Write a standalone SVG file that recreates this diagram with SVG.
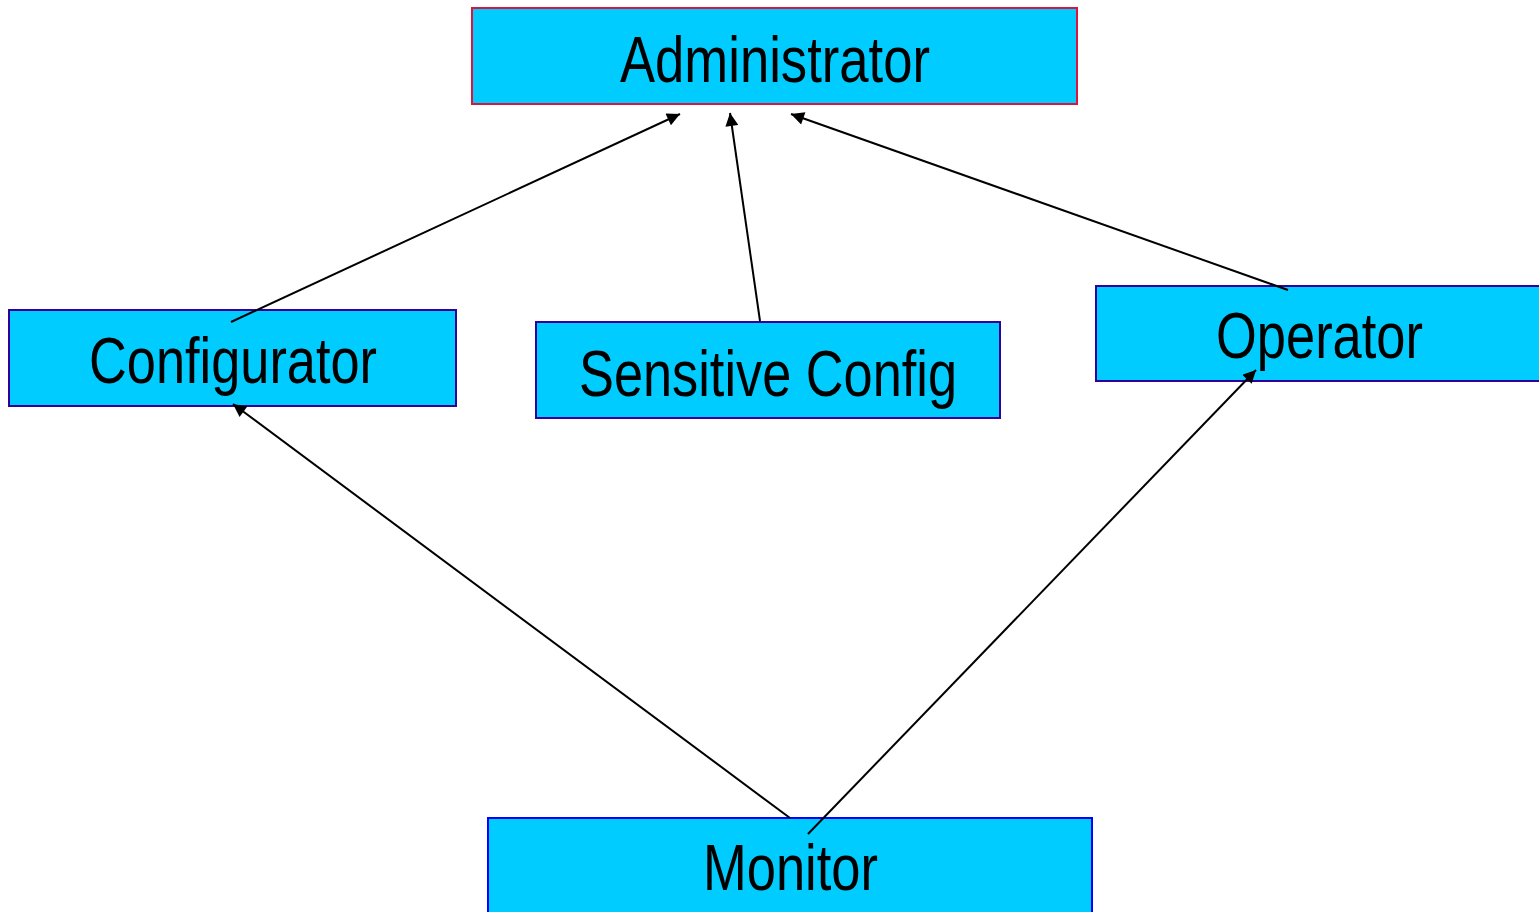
<svg xmlns="http://www.w3.org/2000/svg" width="1539" height="912" viewBox="0 0 1539 912">
<style>
.box{fill:#00ccff;stroke-width:2}
.lbl{font-family:"Liberation Sans",Arial,sans-serif;font-size:64px;fill:#000}
.edge{stroke:#000;stroke-width:2;fill:none;marker-end:url(#ah)}
</style>
<defs>
<marker id="ah" viewBox="0 0 10 10" refX="10" refY="5" markerWidth="8" markerHeight="6.5" markerUnits="strokeWidth" orient="auto">
<path d="M0,0 L10,5 L0,10 z" fill="#000"/>
</marker>
</defs>
<rect width="1539" height="912" fill="#fff"/>
<g id="node-administrator">
<rect class="box" x="472" y="8" width="605" height="96" stroke="#dc143c"/>
<text class="lbl" x="620" y="82" textLength="310" lengthAdjust="spacingAndGlyphs">Administrator</text>
</g>
<g id="node-configurator">
<rect class="box" x="9" y="310" width="447" height="96" stroke="#330099"/>
<text class="lbl" x="89" y="383" textLength="288" lengthAdjust="spacingAndGlyphs">Configurator</text>
</g>
<g id="node-sensitive-config">
<rect class="box" x="536" y="322" width="464" height="96" stroke="#330099"/>
<text class="lbl" x="579" y="396" textLength="378" lengthAdjust="spacingAndGlyphs">Sensitive Config</text>
</g>
<g id="node-operator">
<rect class="box" x="1096" y="286" width="446" height="95" stroke="#330099"/>
<text class="lbl" x="1216" y="358" textLength="207" lengthAdjust="spacingAndGlyphs">Operator</text>
</g>
<g id="node-monitor">
<rect class="box" x="488" y="818" width="604" height="98" stroke="#0000ff"/>
<text class="lbl" x="703" y="890" textLength="175" lengthAdjust="spacingAndGlyphs">Monitor</text>
</g>
<g id="connectors">
<line class="edge" x1="231" y1="322" x2="680" y2="114"/>
<line class="edge" x1="760" y1="321" x2="730" y2="113"/>
<line class="edge" x1="1288" y1="290" x2="791" y2="114"/>
<line class="edge" x1="790" y1="818" x2="233" y2="404"/>
<line class="edge" x1="808" y1="834" x2="1256" y2="370"/>
</g>
</svg>
